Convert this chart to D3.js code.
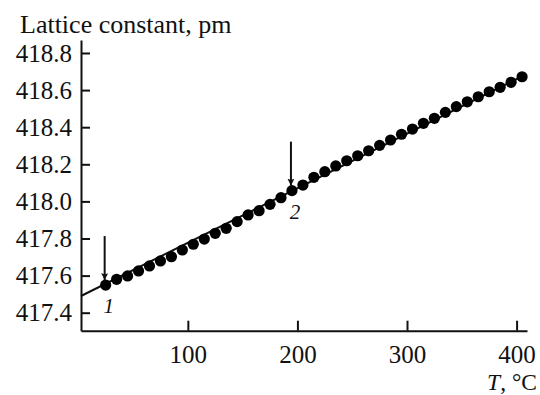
<!DOCTYPE html>
<html>
<head>
	<meta http-equiv="Content-Type" content="text/html; charset=utf-8">
	<title>Lattice constant vs temperature</title>
	<script type="text/javascript" src="https://cdn.jsdelivr.net/npm/d3@7/dist/d3.min.js"></script>
	<style type="text/css">
		body{
			margin: 0;
			background: #fff;
		}
	</style>
</head>
<body>
<div id="chart"></div>
</body>

<script type="text/javascript">

// temperature of each measurement, °C
var temps = [25, 35, 45, 55, 65, 75, 85, 95, 105, 115,
	125, 135, 145, 155, 165, 175, 185, 195, 205, 215,
	225, 235, 245, 255, 265, 275, 285, 295, 305, 315,
	325, 335, 345, 355, 365, 375, 385, 395, 405];

// lattice constant, pm
var lattice = [417.549, 417.580, 417.598, 417.625, 417.652, 417.679, 417.702, 417.738, 417.769, 417.797,
	417.828, 417.855, 417.891, 417.927, 417.950, 417.984, 418.020, 418.058, 418.088, 418.130,
	418.160, 418.191, 418.219, 418.246, 418.273, 418.302, 418.331, 418.362, 418.390, 418.421,
	418.448, 418.480, 418.511, 418.537, 418.564, 418.591, 418.615, 418.642, 418.672];

// straight reference line
var lineT = [2.5, 405];
var lineV = [417.490, 418.674];

var xTicks = [100, 200, 300, 400];
var yTicks = [417.4, 417.6, 417.8, 418.0, 418.2, 418.4, 418.6, 418.8];

// marked points: label and index into temps
var markLabels = ["1", "2"];
var markIndex = [0, 17];

var width = 540, height = 395;
var serif = "'Liberation Serif', 'Times New Roman', Times, serif";

var svg = d3.select("#chart").append("svg")
	.attr("width", width)
	.attr("height", height)
	.attr("font-family", serif);

var x = d3.scaleLinear().domain([2.5, 409.5]).range([81, 527]);
var y = d3.scaleLinear().domain([417.303, 418.870]).range([330.7, 40]);

// axes (ticks point inward)
var xAxis = svg.append("g")
	.attr("transform", "translate(0," + y.range()[0] + ")")
	.call(d3.axisTop(x).tickValues(xTicks).tickSize(10).tickSizeOuter(0).tickFormat(d3.format("d")));
var yAxis = svg.append("g")
	.attr("transform", "translate(" + x.range()[0] + ",0)")
	.call(d3.axisRight(y).tickValues(yTicks).tickSize(9).tickSizeOuter(0).tickFormat(d3.format(".1f")));

xAxis.attr("font-family", serif).attr("font-size", 25);
yAxis.attr("font-family", serif).attr("font-size", 25);

svg.selectAll(".domain").attr("stroke", "#111").attr("stroke-width", 2);
svg.selectAll(".tick line").attr("stroke", "#111").attr("stroke-width", 2);

// move tick labels outside the axes
xAxis.selectAll(".tick text")
	.attr("y", 32)
	.attr("dy", 0)
	.attr("fill", "#111")
	.attr("text-anchor", "middle");
yAxis.selectAll(".tick text")
	.attr("x", -9)
	.attr("dy", "0.33em")
	.attr("fill", "#111")
	.attr("text-anchor", "end");

// axis titles
svg.append("text")
	.attr("x", 20)
	.attr("y", 33)
	.attr("font-size", 26)
	.attr("fill", "#111")
	.text("Lattice constant, pm");

var tLabel = svg.append("text")
	.attr("x", 537)
	.attr("y", 389.5)
	.attr("font-size", 23.5)
	.attr("fill", "#111")
	.attr("text-anchor", "end");
tLabel.append("tspan").attr("font-style", "italic").text("T");
tLabel.append("tspan").text(", °C");

// reference line
svg.append("path")
	.datum(d3.range(lineT.length))
	.attr("fill", "none")
	.attr("stroke", "#111")
	.attr("stroke-width", 2)
	.attr("d", d3.line()
		.x(function(i){ return x(lineT[i]); })
		.y(function(i){ return y(lineV[i]); }));

// data points
svg.selectAll("circle.pt")
	.data(temps)
	.enter()
	.append("circle")
	.attr("class", "pt")
	.attr("cx", function(d){ return x(d); })
	.attr("cy", function(d, i){ return y(lattice[i]); })
	.attr("r", 5.6)
	.attr("fill", "#000");

// arrows + labels for points 1 and 2
var defs = svg.append("defs");
defs.append("marker")
	.attr("id", "head")
	.attr("viewBox", "0 0 10 10")
	.attr("refX", 10)
	.attr("refY", 5)
	.attr("markerWidth", 7)
	.attr("markerHeight", 7)
	.attr("markerUnits", "userSpaceOnUse")
	.attr("orient", "auto")
	.append("path")
	.attr("d", "M0,0 L10,5 L0,10 L2,5 Z")
	.attr("fill", "#111");

for(var i = 0; i < markIndex.length; i++){
	var k = markIndex[i];
	var px = x(temps[k]);
	var py = y(lattice[k]);
	svg.append("line")
		.attr("x1", px - 1)
		.attr("x2", px - 1)
		.attr("y1", py - 49)
		.attr("y2", py - 5)
		.attr("stroke", "#111")
		.attr("stroke-width", 2)
		.attr("marker-end", "url(#head)");
	svg.append("text")
		.attr("x", px + 3)
		.attr("y", py + 28)
		.attr("font-size", 21)
		.attr("font-style", "italic")
		.attr("fill", "#111")
		.attr("text-anchor", "middle")
		.text(markLabels[i]);
}

</script>
</html>
